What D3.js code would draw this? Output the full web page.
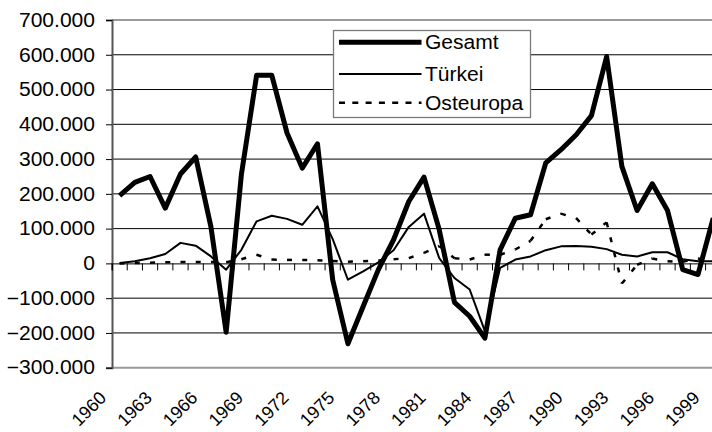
<!DOCTYPE html>
<html>
<head>
<meta charset="utf-8">
<script src="https://cdn.jsdelivr.net/npm/d3@7"></script>
<style>
  html, body { margin: 0; padding: 0; background: #fff; overflow: hidden; }
  svg { display: block; font-family: "Liberation Sans", Arial, sans-serif; }
</style>
</head>
<body>
<svg id="chart"></svg>
<script>
// Jahre (Kategorien)
const years = d3.range(1960, 2000).map(String);

// Wanderungssaldo, Werte
const gesamt = [195000, 233000, 250000, 159000, 257000, 306000, 105000, -198000, 255000, 541000,
  541000, 375000, 274000, 344000, -47000, -231000, -124000, -18000, 68000, 178000,
  248000, 97000, -112000, -152000, -215000, 39000, 130000, 140000, 289000, 327000,
  370000, 425000, 595000, 279000, 152000, 229000, 152000, -18000, -32000, 130000];

const tuerkei = [1000, 6000, 15000, 27000, 59000, 51000, 20000, -18000, 39000, 121000,
  137000, 128000, 111000, 164000, 70000, -47000, -23000, 3000, 38000, 105000,
  143000, 15000, -42000, -75000, -195000, -13000, 11000, 20000, 38000, 49000,
  50000, 48000, 41000, 25000, 20000, 32000, 32000, 12000, 6000, 6000];

const osteuropa = [0, 1000, 2000, 3000, 4000, 4000, 4000, 3000, 12000, 25000,
  11000, 10000, 10000, 9000, 7000, 5000, 6000, 8000, 12000, 15000,
  30000, 50000, 15000, 11000, 25000, 25000, 40000, 65000, 127000, 143000,
  130000, 83000, 118000, -58000, -4000, 14000, 6000, 5000, 14000, 5000];

const yTicks = [-300000, -200000, -100000, 0, 100000, 200000, 300000, 400000, 500000, 600000, 700000];
const seriesNames = ['Gesamt', 'Türkei', 'Osteuropa'];

const width = 712, height = 432;
const plotLeft = 112, plotTop = 20, plotBottom = 367.7, band = 15.22;

const svg = d3.select('#chart').attr('width', width).attr('height', height);

const x = d3.scaleBand().domain(years).range([plotLeft, plotLeft + years.length * band]);
const y = d3.scaleLinear().domain([-300000, 700000]).range([plotBottom, plotTop]);
const cx = d => x(d) + x.bandwidth() / 2;

const fmt = v => v === 0 ? '0' : d3.format(',')(v).replace(/,/g, '.');

// Gitterlinien
svg.append('g').selectAll('line')
  .data(yTicks.filter(t => t !== 0 && t !== 700000 && t !== -300000))
  .enter().append('line')
  .attr('x1', plotLeft).attr('x2', x.range()[1])
  .attr('y1', d => y(d)).attr('y2', d => y(d))
  .attr('stroke', '#000').attr('stroke-width', 1);

// Rahmen oben/unten
svg.append('g').selectAll('line')
  .data([700000, -300000])
  .enter().append('line')
  .attr('x1', plotLeft).attr('x2', x.range()[1])
  .attr('y1', d => y(d)).attr('y2', d => y(d))
  .attr('stroke', '#9a9a9a').attr('stroke-width', 2);

// Y-Achse
const yAxis = d3.axisLeft(y).tickValues(yTicks).tickSize(6).tickPadding(10).tickFormat(fmt);
const gy = svg.append('g').attr('transform', `translate(${plotLeft},0)`).call(yAxis);
gy.select('.domain').attr('stroke', '#555').attr('stroke-width', 2);
gy.selectAll('.tick line').attr('stroke', '#000');
gy.selectAll('.tick text')
  .attr('x', 0)
  .attr('font-size', 19.5).attr('fill', '#000')
  .attr('font-family', '"Liberation Sans", Arial, sans-serif')
  .attr('transform', 'translate(-17,0) scale(1.08,1)');

// Kategorienachse bei 0
const xAxis = d3.axisBottom(x).tickSize(7).tickFormat('');
const gx = svg.append('g').attr('transform', `translate(0,${y(0)})`).call(xAxis);
gx.select('.domain').attr('stroke', '#000').attr('stroke-width', 1);
gx.selectAll('.tick').remove();
gx.selectAll('.sep')
  .data(d3.range(years.length + 1))
  .enter().append('line')
  .attr('x1', i => plotLeft + i * x.bandwidth()).attr('x2', i => plotLeft + i * x.bandwidth())
  .attr('y1', 0).attr('y2', 7)
  .attr('stroke', '#000');

// Jahresbeschriftungen
svg.append('g').selectAll('text')
  .data(years.filter((d, i) => i % 3 === 0))
  .enter().append('text')
  .attr('transform', d => `translate(${cx(d) - 12.3},399) rotate(-45)`)
  .attr('text-anchor', 'end')
  .attr('font-size', 18)
  .text(d => d);

// Linien
const line = d3.line().x(d => cx(d[0])).y(d => y(d[1]));
const pairs = vals => years.map((yr, i) => [yr, vals[i]]);

svg.append('path')
  .datum(pairs(tuerkei))
  .attr('d', line)
  .attr('fill', 'none').attr('stroke', '#000').attr('stroke-width', 2)
  .attr('stroke-linejoin', 'round');

// gestrichelt, Muster beginnt bei jedem Segment neu
const ostPts = pairs(osteuropa);
svg.append('g').selectAll('path')
  .data(d3.pairs(ostPts))
  .enter().append('path')
  .attr('d', d => line(d))
  .attr('fill', 'none').attr('stroke', '#000').attr('stroke-width', 2.5)
  .attr('stroke-dasharray', '5,10.5');

svg.append('path')
  .datum(pairs(gesamt))
  .attr('d', line)
  .attr('fill', 'none').attr('stroke', '#000').attr('stroke-width', 5)
  .attr('stroke-linejoin', 'round');

// Legende
const lg = svg.append('g');
lg.append('rect')
  .attr('x', 333.5).attr('y', 30.5).attr('width', 197).attr('height', 87)
  .attr('fill', '#fff').attr('stroke', '#7a7a7a').attr('stroke-width', 1.3);

const legendY = [42.2, 74, 102.7];
const legendStyle = [
  { w: 5, dash: null },
  { w: 2, dash: null },
  { w: 2.5, dash: '6,7.3' }
];
seriesNames.forEach((name, i) => {
  lg.append('line')
    .attr('x1', 339).attr('x2', 421.5)
    .attr('y1', legendY[i]).attr('y2', legendY[i])
    .attr('stroke', '#000').attr('stroke-width', legendStyle[i].w)
    .attr('stroke-dasharray', legendStyle[i].dash);
  lg.append('text')
    .attr('transform', `translate(425,${legendY[i]}) scale(1.08,1)`)
    .attr('dy', '0.35em')
    .attr('font-size', 19.5)
    .text(name);
});
</script>
</body>
</html>
